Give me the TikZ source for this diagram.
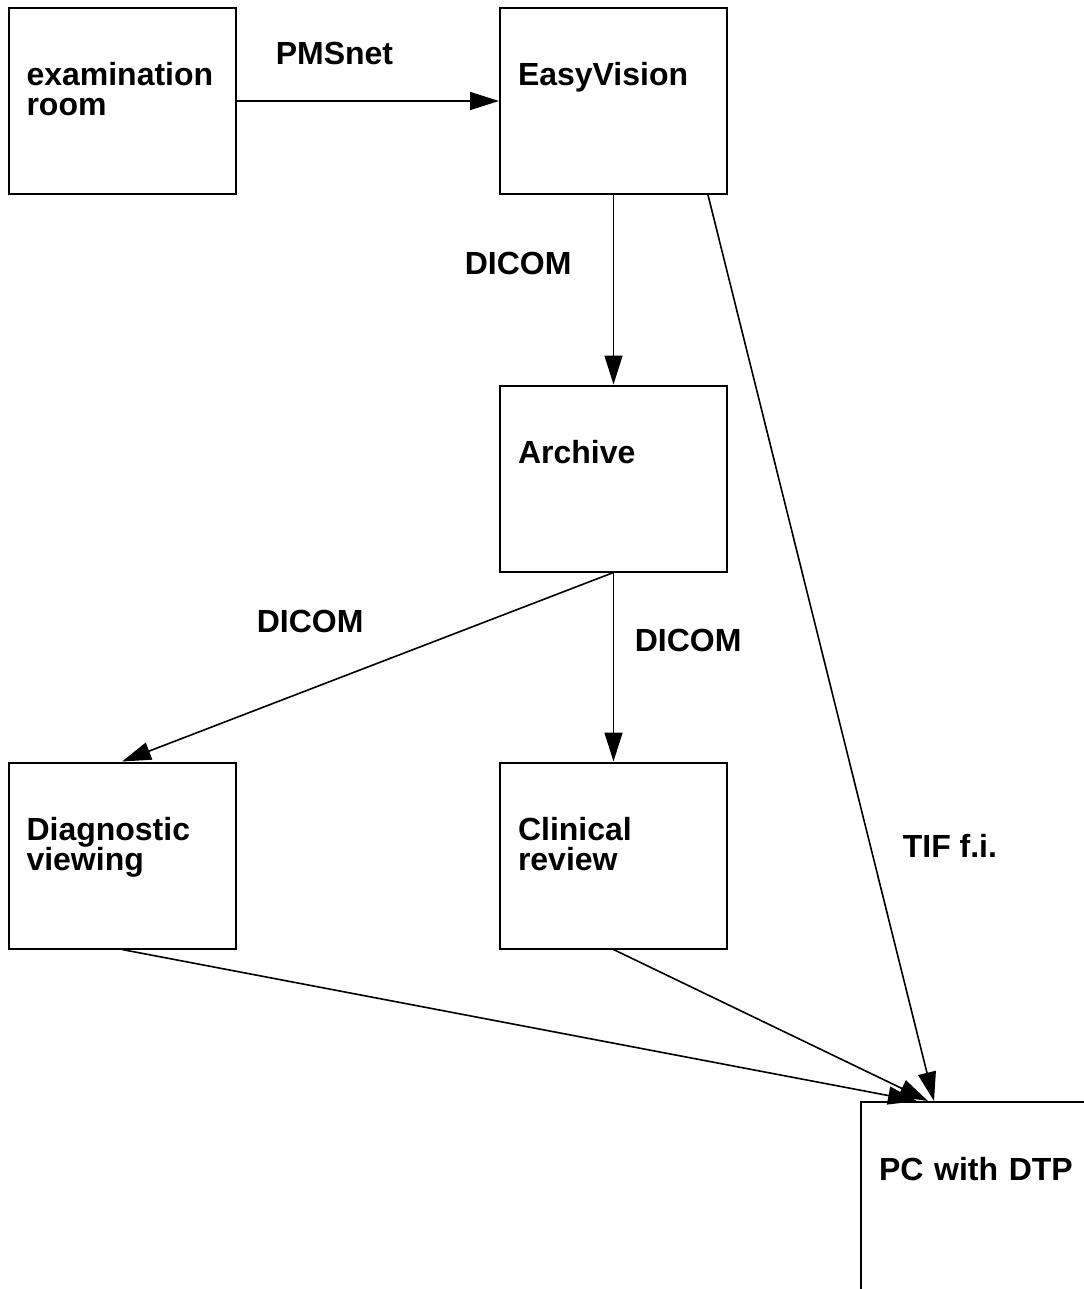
\documentclass[tikz,border=0pt]{standalone}
\usepackage{fontspec}
\setmainfont{Liberation Sans}
\usetikzlibrary{arrows.meta}

\begin{document}
\begin{tikzpicture}[->,>={Triangle[length=14.5pt,width=9pt]},line width=0.8pt,
                    x=0.5pt,y=-0.5pt,node distance=245.75pt]
  \tikzstyle{block}=[rectangle,draw=black,line width=1pt,fill=white,text width=95.5pt,
    inner xsep=9pt,inner ysep=0pt,text height=39pt,text depth=54pt,align=left,
    font=\fontsize{16}{15}\selectfont\bfseries]
  \tikzstyle{tag}=[anchor=base west,inner sep=0pt,font=\fontsize{16}{15}\selectfont\bfseries]

  \useasboundingbox (0,0) rectangle (1083,1289);

  \node[block] (exam) at (122,101)            {examination\\room};
  \node[block] (ev)   [right of=exam]         {EasyVision};
  \node[block] (arch) [below of=ev,node distance=188.75pt]   {Archive};
  \node[block] (clin) [below of=arch,node distance=188.5pt]  {Clinical\\review};
  \node[block] (diag) [left of=clin]          {Diagnostic\\viewing};
  \node[block,anchor=north west,text width=120pt,text depth=62pt] (pc) at (860,1101) {PC with DTP};

  \node[tag] (pmsnet) at (275,65)  {PMSnet};
  \node[tag] (dicomA) at (464,274) {DICOM};
  \node[tag] (dicomB) at (256,632) {DICOM};
  \node[tag] (dicomC) at (634,651) {DICOM};
  \node[tag] (tif)    at (902,857) {TIF f.i.};

  \draw (exam.east) -- (ev.west);
  \draw (ev.south) -- (arch.north);
  \draw (arch.south) -- (diag.north);
  \draw (arch.south) -- (clin.north);
  \draw ([xshift=47.25pt]ev.south) -- ([xshift=37pt]pc.north west);
  \draw (diag.south) -- ([xshift=28.5pt]pc.north west);
  \draw (clin.south) -- ([xshift=34pt]pc.north west);
\end{tikzpicture}
\end{document}
